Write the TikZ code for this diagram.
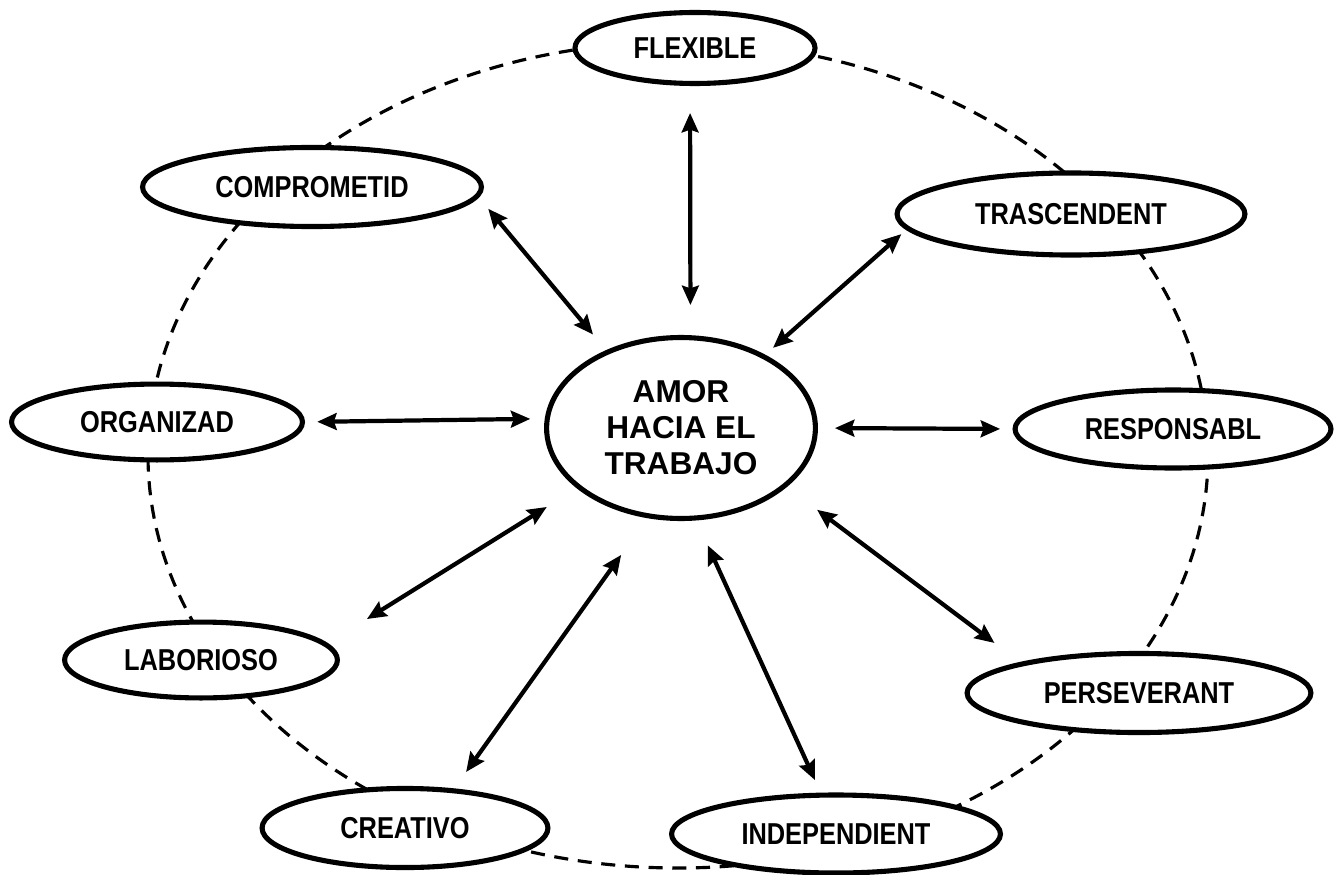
\documentclass[tikz,border=0pt]{standalone}
\usepackage{fontspec}
\setmainfont{Liberation Sans}
\newfontfamily\tagfont[FakeStretch=0.84]{Liberation Sans}
\usetikzlibrary{shapes.geometric, arrows.meta}

\begin{document}
\begin{tikzpicture}[x=0.02cm, y=-0.02cm,
    ring/.style={dash pattern=on 8pt off 5.5pt, line width=1.8pt},
    trait/.style={ellipse, draw, fill=white, line width=2.9pt, inner sep=0pt, outer sep=0pt,
        font=\tagfont\bfseries\fontsize{17.2}{20}\selectfont},
    core/.style={trait, align=center, font=\bfseries\fontsize{18}{20.5}\selectfont},
    link/.style={<->, >={Stealth[length=11pt, width=9.5pt, inset=1.5pt]}, line width=2.4pt}]
    \useasboundingbox (0,0) rectangle (1342,875);
    % dashed ring behind the ellipses
    \draw[ring] (678,455) ellipse [x radius=530, y radius=413];
    \node[core, minimum width=153pt, minimum height=103pt] (amor) at (681,428) {AMOR\\HACIA EL\\TRABAJO};
    \node[trait, minimum width=136.6pt, minimum height=40.4pt] (flex) at (695,48) {FLEXIBLE};
    \node[trait, minimum width=192.9pt, minimum height=45pt] (compro) at (312,187) {COMPROMETID};
    \node[trait, minimum width=198pt, minimum height=46.7pt] (tras) at (1071,214) {TRASCENDENT};
    \node[trait, minimum width=165.6pt, minimum height=43.2pt] (org) at (157,422) {ORGANIZAD};
    \node[trait, minimum width=179.8pt, minimum height=44.4pt] (resp) at (1173,429) {RESPONSABL};
    \node[trait, minimum width=155.3pt, minimum height=43.2pt] (lab) at (201,660) {LABORIOSO};
    \node[trait, minimum width=195.7pt, minimum height=45pt] (pers) at (1139,693) {PERSEVERANT};
    \node[trait, minimum width=162.7pt, minimum height=45pt] (crea) at (405,828) {CREATIVO};
    \node[trait, minimum width=187.2pt, minimum height=44.4pt] (indep) at (836,834) {INDEPENDIENT};
    % two-headed arrows out of the centre
    \foreach \n/\a/\b/\s/\t in {flex/84.3/262/18.6pt/16.8pt, compro/134.5/-3.5/13.1pt/9.7pt,
        tras/41/185.4/7.4pt/5pt, org/176.6/0.8/9.7pt/8.4pt, resp/0/180/11.1pt/8.5pt,
        lab/210.3/7.8/21.6pt/27.6pt, crea/250.7/38.8/27.3pt/13.1pt,
        indep/279.3/110/17.1pt/9.4pt, pers/331/166.3/23pt/19.9pt}
        \draw[link, shorten <=\s, shorten >=\t] (amor.\a) -- (\n.\b);
\end{tikzpicture}
\end{document}
